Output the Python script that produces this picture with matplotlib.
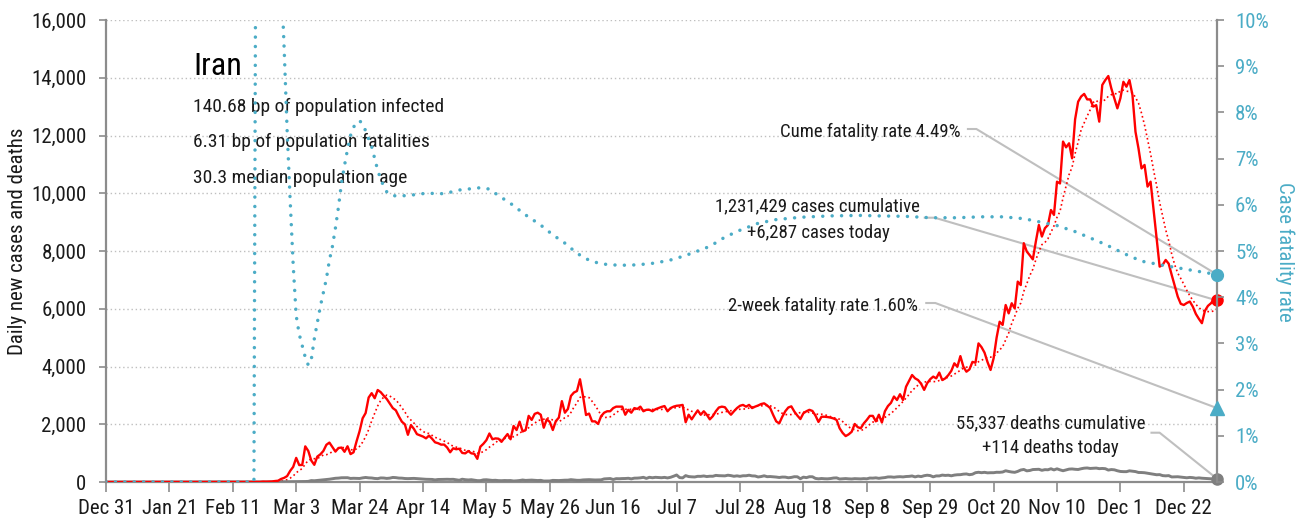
import numpy as np
import pandas as pd
import matplotlib
matplotlib.use("Agg")
import matplotlib.pyplot as plt
import matplotlib.dates as mdates
from matplotlib import font_manager as fm
from matplotlib.ticker import FuncFormatter, MultipleLocator

# ---------------------------------------------------------------- data
start = pd.Timestamp("2019-12-31")

# Daily new cases, one value per day from Dec 31, 2019
new_cases = [0] * 50 + [
    2, 3, 13, 10, 15, 18, 34, 44, 106, 143,
    205, 385, 523, 835, 586, 591, 1234, 1076, 743, 595,
    881, 958, 1075, 1289, 1365, 1209, 1053, 1178, 1192, 1046,
    1237, 966, 1028, 1411, 1762, 2206, 2389, 2926, 3076, 2901,
    3186, 3110, 2987, 2875, 2715, 2560, 2483, 2274, 2089, 1997,
    1634, 1972, 1837, 1657, 1617, 1574, 1512, 1606, 1499, 1374,
    1343, 1294, 1297, 1194, 1030, 1168, 1134, 1153, 1006, 991,
    1073, 993, 976, 802, 1223, 1323, 1450, 1680, 1480, 1510,
    1500, 1390, 1530, 1660, 1480, 1940, 1800, 2090, 1750, 1800,
    2290, 2150, 2360, 2400, 2330, 1880, 2170, 2080, 1800, 2110,
    2230, 2800, 2400, 2530, 2980, 3100, 3150, 3557, 2980, 2320,
    2370, 2100, 2100, 2010, 2280, 2400, 2450, 2450, 2560, 2610,
    2610, 2610, 2330, 2500, 2400, 2560, 2530, 2610, 2450, 2500,
    2500, 2450, 2520, 2560, 2600, 2630, 2450, 2560, 2610, 2640,
    2650, 2670, 2070, 2330, 2170, 2330, 2480, 2330, 2450, 2330,
    2170, 2280, 2450, 2580, 2610, 2590, 2450, 2330, 2450, 2560,
    2640, 2670, 2610, 2670, 2560, 2610, 2650, 2700, 2725, 2650,
    2560, 2320, 2100, 2030, 2260, 2450, 2580, 2620, 2440, 2300,
    2180, 2380, 2450, 2500, 2460, 2300, 2080, 2260, 2260, 2250,
    2230, 2200, 2150, 1860, 1700, 1590, 1650, 1740, 2010, 1900,
    1860, 2030, 2150, 2290, 2290, 2100, 2330, 2060, 2450, 2630,
    2740, 2960, 2840, 3040, 2840, 3300, 3500, 3705, 3590, 3530,
    3400, 3190, 3420, 3560, 3650, 3590, 3790, 3530, 3590, 3700,
    3850, 4110, 3990, 4360, 3990, 3820, 3900, 4160, 4130, 4800,
    4670, 4480, 4150, 3880, 4280, 5000, 5550, 5440, 6130, 5840,
    6190, 6010, 6940, 6820, 8270, 7980, 7850, 7710, 8330, 8900,
    8500, 8790, 8900, 9420, 9250, 10400, 10340, 11790, 11590, 11730,
    11210, 12560, 13170, 13350, 13440, 13250, 13250, 13000, 13050, 12480,
    13750, 13920, 14060, 13630, 13290, 12940, 13290, 13860, 13690, 13920,
    13400, 12130, 11550, 10860, 10980, 10230, 10400, 9420, 8440, 7460,
    7520, 7690, 7560, 7170, 6800, 6420, 6170, 6130, 6200, 6250,
    6070, 5820, 5650, 5500, 5930, 6100, 6190, 6330, 6287,
]

# Daily new deaths, same days
new_deaths = [0] * 50 + [
    2, 0, 2, 1, 3, 4, 3, 7, 4, 8,
    9, 11, 12, 11, 15, 15, 17, 21, 49, 43,
    54, 63, 75, 85, 97, 113, 129, 135, 147, 149,
    149, 123, 129, 127, 122, 143, 157, 144, 139, 123,
    117, 141, 138, 124, 134, 158, 151, 136, 133, 121,
    117, 122, 125, 117, 111, 98, 94, 92, 89, 73,
    87, 88, 91, 94, 90, 93, 76, 60, 96, 80,
    71, 80, 63, 47, 47, 74, 78, 68, 55, 60,
    48, 45, 51, 48, 50, 35, 41, 51, 69, 55,
    62, 66, 58, 51, 57, 34, 35, 36, 56, 54,
    50, 57, 63, 64, 81, 70, 59, 59, 72, 75,
    81, 74, 70, 71, 75, 107, 115, 120, 87, 116,
    113, 119, 121, 129, 109, 133, 135, 144, 162, 125,
    163, 147, 162, 154, 148, 160, 141, 163, 200, 243,
    153, 142, 221, 188, 179, 174, 197, 195, 209, 188,
    200, 199, 229, 219, 215, 212, 235, 221, 198, 213,
    196, 216, 216, 235, 212, 208, 174, 189, 215, 184,
    189, 181, 171, 156, 171, 169, 147, 159, 183, 181,
    113, 168, 151, 183, 181, 124, 110, 121, 113, 110,
    120, 138, 143, 104, 112, 119, 110, 105, 116, 112,
    108, 117, 110, 137, 134, 144, 127, 142, 153, 175,
    176, 165, 178, 184, 176, 190, 195, 209, 177, 204,
    186, 218, 235, 222, 179, 211, 210, 239, 227, 235,
    215, 239, 251, 254, 272, 279, 253, 269, 322, 337,
    322, 335, 317, 322, 322, 337, 335, 346, 389, 365,
    346, 335, 367, 415, 434, 386, 399, 431, 434, 440,
    405, 428, 423, 459, 418, 457, 420, 390, 420, 446,
    452, 440, 433, 459, 479, 486, 469, 475, 482, 462,
    469, 461, 413, 431, 422, 389, 365, 359, 358, 387,
    375, 361, 330, 328, 321, 304, 284, 268, 251, 256,
    221, 213, 221, 175, 179, 182, 170, 158, 146, 159,
    150, 131, 143, 131, 124, 115, 111, 96, 114,
]

# Cumulative case fatality rate (%), by days since Dec 31, 2019
cfr_day = [0, 49, 50, 51, 52, 53, 54, 55, 56, 57, 58, 59, 60, 61, 62, 63,
           64, 65, 66, 67, 68, 69, 70, 71, 72, 73, 74, 75, 76, 77, 78, 79,
           80, 81, 82, 83, 84, 85, 86, 87, 88, 89, 90, 91, 92, 93, 94, 96,
           100, 106, 112, 117, 124, 127, 130, 134, 139, 144, 148, 152, 156,
           160, 164, 170, 176, 182, 188, 194, 200, 205, 210, 216, 222, 230,
           240, 250, 256, 265, 273, 282, 290, 297, 304, 310, 315, 321, 329,
           334, 337, 343, 351, 359, 368]
cfr_pct = [0.0, 0.0, 20.0, 40.0, 22.0, 18.0, 18.6, 19.7, 15.8, 13.7, 11.0,
           9.4, 7.6, 6.1, 4.7, 3.6, 3.2, 2.95, 2.7, 2.53, 2.65, 3.1, 3.45,
           3.8, 4.1, 4.4, 4.8, 5.1, 5.5, 5.95, 6.47, 6.85, 7.2, 7.5, 7.68,
           7.78, 7.82, 7.75, 7.6, 7.42, 7.26, 7.0, 6.75, 6.55, 6.4, 6.28,
           6.22, 6.19, 6.2, 6.25, 6.24, 6.32, 6.37, 6.34, 6.2, 6.03, 5.78,
           5.56, 5.35, 5.17, 4.95, 4.8, 4.72, 4.69, 4.7, 4.74, 4.82, 4.95,
           5.1, 5.3, 5.45, 5.6, 5.68, 5.73, 5.76, 5.77, 5.76, 5.75, 5.72,
           5.72, 5.74, 5.74, 5.7, 5.62, 5.55, 5.42, 5.2, 5.05, 4.95, 4.78,
           4.68, 4.59, 4.49]

country = "Iran"
profile_lines = ["140.68 bp of population infected",
                 "6.31 bp of population fatalities",
                 "30.3 median population age"]
cases_cumulative = 1231429
deaths_cumulative = 55337
cume_fatality_rate = 4.49
two_week_fatality_rate = 1.60

# ---------------------------------------------------------------- fonts
entries = fm.fontManager.ttflist
names = {f.name for f in entries}
stretch = "normal"
if "Liberation Sans Narrow" in names:
    family = ["Liberation Sans Narrow", "DejaVu Sans"]
elif "Roboto Condensed" in names:
    family = ["Roboto Condensed", "DejaVu Sans"]
elif any(f.name == "DejaVu Sans" and str(f.stretch) == "condensed" for f in entries):
    family = ["DejaVu Sans"]
    stretch = "condensed"
else:
    family = ["Roboto", "DejaVu Sans"]
plt.rcParams["font.family"] = family
plt.rcParams["font.stretch"] = stretch

# ---------------------------------------------------------------- series
dates = start + pd.to_timedelta(np.arange(len(new_cases)), unit="D")
cases_avg = pd.Series(new_cases).rolling(7, min_periods=1).mean().to_numpy()
cfr_dates = start + pd.to_timedelta(np.array(cfr_day), unit="D")
end = dates[-1]


def day(n):
    return start + pd.Timedelta(days=n)


RED = "#FF0000"
BLUE = "#4BACC6"
GREY = "#7F7F7F"
AXIS = "#8C8C8C"
LEAD = "#BFBFBF"
INK = "#1A1A1A"

fig = plt.figure(figsize=(13.02, 5.22), dpi=100)
ax = fig.add_axes([106 / 1302, 40 / 522, 1111 / 1302, 462 / 522])
ax2 = ax.twinx()

ax.set_xlim(start, end)
ax.set_ylim(0, 16000)
ax2.set_ylim(0, 10)

# cases, smoothed cases, deaths
ax.plot(dates, cases_avg, color=RED, lw=1.2, ls=(0, (1, 1.7)), zorder=3)
ax.plot(dates, new_cases, color=RED, lw=1.7, zorder=4, solid_joinstyle="round")
ax.plot(dates, new_deaths, color=GREY, lw=2.1, zorder=3)

# fatality rate on the right-hand scale
ax2.plot(cfr_dates, cfr_pct, color=BLUE, lw=2.5, ls=(0, (0.01, 2.7)),
         dash_capstyle="round", zorder=3)

# grid, spines, ticks
ax.yaxis.set_major_locator(MultipleLocator(2000))
ax2.yaxis.set_major_locator(MultipleLocator(1))
ax.yaxis.grid(True, color=LEAD, ls=(0, (1, 2)), lw=1.0)
ax.set_axisbelow(True)

for a in (ax, ax2):
    a.spines["top"].set_visible(False)
ax.spines["right"].set_visible(False)
ax2.spines["left"].set_visible(False)
ax2.spines["bottom"].set_visible(False)
for s in (ax.spines["left"], ax.spines["bottom"], ax2.spines["right"]):
    s.set_color(AXIS)
    s.set_linewidth(1.6)

xticks = pd.date_range(start, day(357), freq="21D")
ax.set_xticks(xticks)
ax.xaxis.set_major_formatter(FuncFormatter(
    lambda v, p: "{:%b} {}".format(mdates.num2date(v), mdates.num2date(v).day)))
ax.yaxis.set_major_formatter(FuncFormatter(lambda v, p: f"{v:,.0f}"))
ax2.yaxis.set_major_formatter(FuncFormatter(lambda v, p: f"{v:.0f}%"))

ax.tick_params(axis="x", direction="out", length=7, width=1.2, color=AXIS,
               labelsize=15, labelcolor=INK, pad=5)
ax.tick_params(axis="y", direction="out", length=5, width=1.2, color=AXIS,
               labelsize=15, labelcolor=INK, pad=9)
ax2.tick_params(axis="y", direction="out", length=5, width=1.2, color=AXIS,
                labelsize=15, labelcolor=BLUE, pad=8)

fig.text(18 / 1302, 1 - 241 / 522, "Daily new cases and deaths", rotation=90,
         ha="center", va="center", fontsize=15, color=INK)
fig.text(1285 / 1302, 1 - 252 / 522, "Case fatality rate", rotation=270,
         ha="center", va="center", fontsize=15, color=BLUE)

# country block
ax.text(day(28.8), 14095, country, fontsize=23, color="black", va="baseline")
for txt, yb in zip(profile_lines, [12822, 11613, 10366]):
    ax.text(day(28.8), yb, txt, fontsize=14, color=INK, va="baseline")


# callouts with leader lines to the last values
def leader(d0, d1, y0, target_y, target_ax):
    disp = target_ax.transData.transform((mdates.date2num(end), target_y))
    xt, yt = ax.transData.inverted().transform(disp)
    ax.plot([mdates.date2num(day(d0)), mdates.date2num(day(d1)), xt],
            [y0, y0, yt], color=LEAD, lw=1.5, clip_on=False, zorder=2)


NOTE = 13.5
ax.text(day(283.1), 11948, f"Cume fatality rate {cume_fatality_rate:.2f}%",
        ha="right", va="baseline", fontsize=NOTE, color=INK)
leader(285.5, 288.3, 12225, cume_fatality_rate, ax2)

ax.text(day(235.8), 9361, f"{cases_cumulative:,} cases cumulative",
        ha="center", va="baseline", fontsize=NOTE, color=INK)
ax.text(day(235.8), 8440, f"+{new_cases[-1]:,} cases today",
        ha="center", va="baseline", fontsize=NOTE, color=INK)
leader(271.2, 274.5, 9153, new_cases[-1], ax)

ax.text(day(268.9), 5933, f"2-week fatality rate {two_week_fatality_rate:.2f}%",
        ha="right", va="baseline", fontsize=NOTE, color=INK)
leader(271.7, 274.7, 6199, two_week_fatality_rate, ax2)

ax.text(day(312.9), 1860, f"{deaths_cumulative:,} deaths cumulative",
        ha="center", va="baseline", fontsize=NOTE, color=INK)
ax.text(day(312.9), 1015, f"+{new_deaths[-1]:,} deaths today",
        ha="center", va="baseline", fontsize=NOTE, color=INK)
leader(346.3, 349.0, 1707, new_deaths[-1], ax)

# end-of-series markers
ax.plot([end], [new_cases[-1]], "o", color=RED, ms=8, clip_on=False, zorder=6)
ax.plot([end], [new_deaths[-1]], "o", color=GREY, ms=8, clip_on=False, zorder=6)
ax2.plot([end], [cume_fatality_rate], "o", color=BLUE, ms=8.5, clip_on=False, zorder=6)
ax2.plot([end], [two_week_fatality_rate], "^", color=BLUE, ms=9.5, clip_on=False, zorder=6)

fig.savefig("out.png", dpi=100)
